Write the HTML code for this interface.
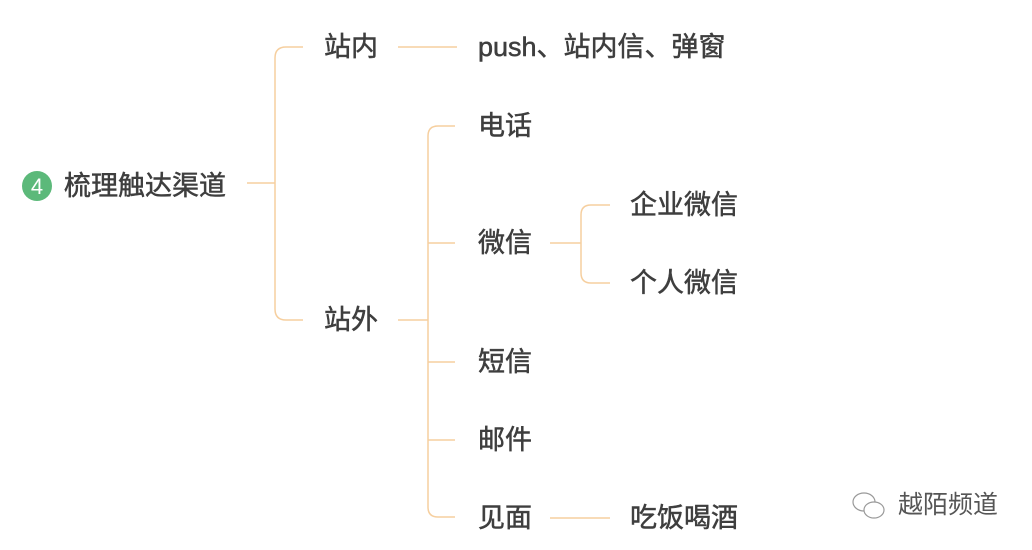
<!DOCTYPE html>
<html><head><meta charset="utf-8"><style>
body{margin:0;width:1032px;height:550px;background:#fff;position:relative;overflow:hidden;font-family:"Liberation Sans","Noto Sans CJK SC",sans-serif;}
.t{position:absolute;font-size:27px;font-weight:normal;-webkit-text-stroke:0.5px #3e3e3e;color:#3e3e3e;line-height:30px;white-space:nowrap;transform:translateY(-15px);}
</style></head><body>
<svg width="1032" height="550" style="position:absolute;left:0;top:0" fill="none" stroke="#f6cf9f" stroke-width="1.5">
<path d="M247 183H275"/>
<path d="M303 47H286Q275 47 275 58V309Q275 320 286 320H303"/>
<path d="M398 47H457"/>
<path d="M398 320H428"/>
<path d="M455 126H438Q428 126 428 136V507Q428 517 438 517H455"/>
<path d="M428 243H455M428 362H455M428 440H455"/>
<path d="M550 243H581"/>
<path d="M610 205H591Q581 205 581 215V273Q581 283 591 283H610"/>
<path d="M550 518H610"/>
<circle cx="37" cy="186" r="15" fill="#5cb97a" stroke="none"/>
<text x="37" y="194" font-size="22" fill="#fff" stroke="none" text-anchor="middle" font-family="Liberation Sans">4</text>
</svg>
<div class="t" style="left:64px;top:186px">梳理触达渠道</div>
<div class="t" style="left:324px;top:47px">站内</div>
<div class="t" style="left:478px;top:47px">push、站内信、弹窗</div>
<div class="t" style="left:324px;top:320px">站外</div>
<div class="t" style="left:478px;top:126px">电话</div>
<div class="t" style="left:478px;top:243px">微信</div>
<div class="t" style="left:478px;top:362px">短信</div>
<div class="t" style="left:478px;top:440px">邮件</div>
<div class="t" style="left:478px;top:518px">见面</div>
<div class="t" style="left:630px;top:205px">企业微信</div>
<div class="t" style="left:630px;top:283px">个人微信</div>
<div class="t" style="left:630px;top:518px">吃饭喝酒</div>
<svg width="40" height="34" style="position:absolute;left:850px;top:490px" fill="#fff" stroke="#999" stroke-width="1.2">
<ellipse cx="14" cy="12" rx="11" ry="9"/><ellipse cx="24" cy="20" rx="10" ry="8"/>
</svg>
<div class="t" style="left:898px;top:505px;font-size:25px;-webkit-text-stroke:0;color:#555">越陌频道</div>
</body></html>
